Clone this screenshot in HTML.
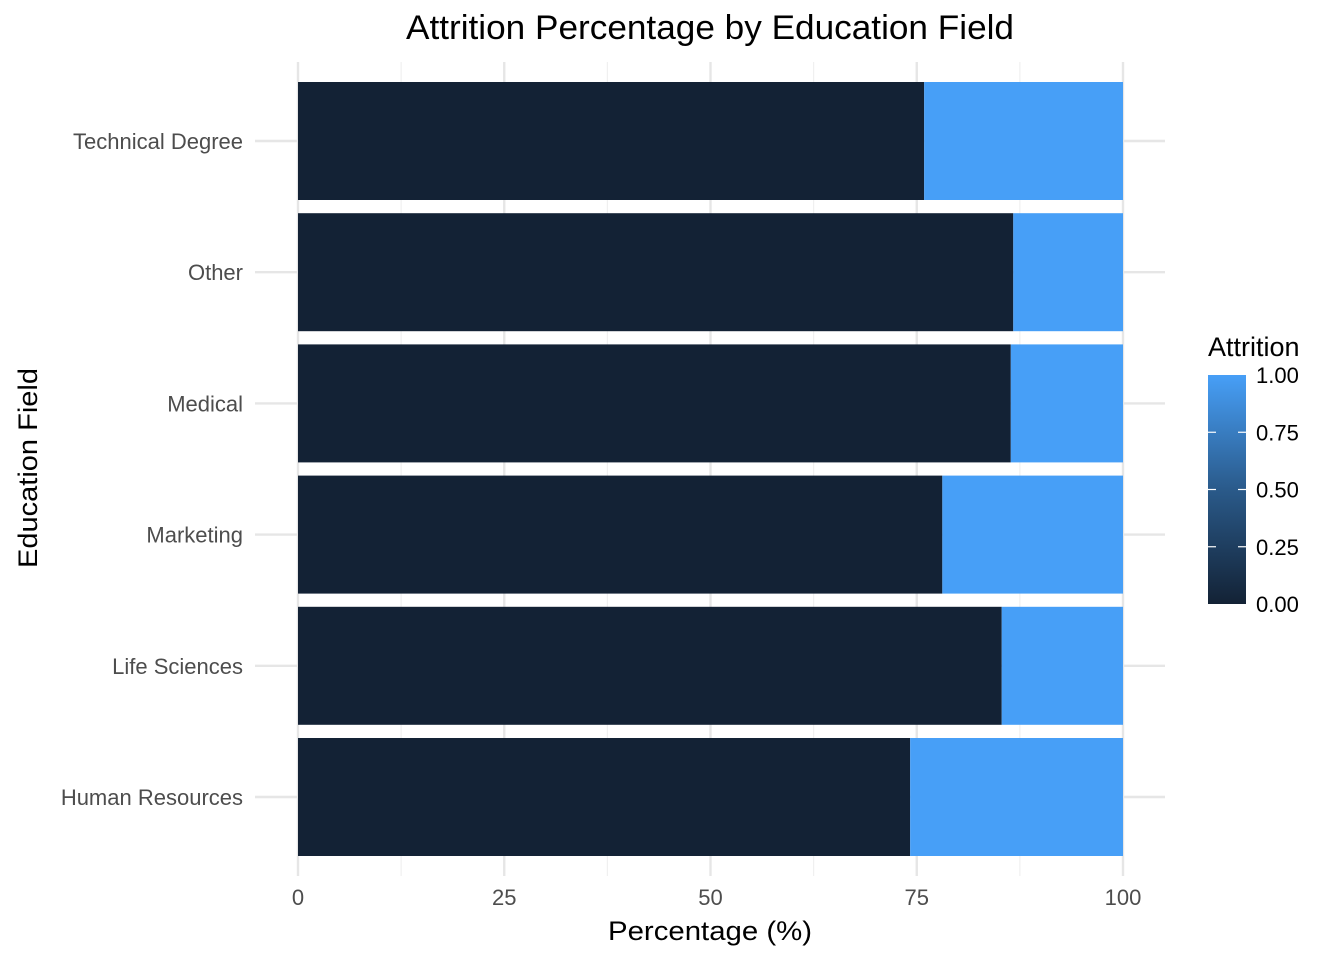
<!DOCTYPE html>
<html><head><meta charset="utf-8"><style>
body{margin:0;background:#fff}
svg text{font-family:"Liberation Sans",Arial,sans-serif}
</style></head><body>
<svg id="chart" width="1344" height="960" xmlns="http://www.w3.org/2000/svg">
<defs><linearGradient id="cg" x1="0" y1="1" x2="0" y2="0">
<stop offset="0" stop-color="#132235"/><stop offset="0.5" stop-color="#2a5a8a"/><stop offset="1" stop-color="#479ff7"/></linearGradient></defs>
<text x="710" y="39" font-size="34" text-anchor="middle" fill="#000" textLength="608" lengthAdjust="spacingAndGlyphs">Attrition Percentage by Education Field</text>
<g id="grid"></g><g id="bars"></g><g id="axes"></g>
<text x="710" y="940" font-size="27" text-anchor="middle" textLength="204" lengthAdjust="spacingAndGlyphs">Percentage (%)</text>
<text transform="translate(37,468) rotate(-90)" font-size="27" text-anchor="middle" textLength="200" lengthAdjust="spacingAndGlyphs">Education Field</text>
<g>
<text x="1208" y="356" font-size="27">Attrition</text>
<rect x="1208" y="375" width="38" height="229" fill="url(#cg)"/>
<g id="legend-ticks"></g>
</g>
</svg>
<script>
const categories=["Human Resources","Life Sciences","Marketing","Medical","Other","Technical Degree"];
const noAttrition=[74.2,85.3,78.1,86.4,86.7,75.9];
const yesAttrition=[25.8,14.7,21.9,13.6,13.3,24.1];
const xTicks=[0,25,50,75,100];
const legendTicks=["0.00","0.25","0.50","0.75","1.00"];
const NS="http://www.w3.org/2000/svg";
const x=v=>298+v*8.25;
const bandC=i=>797-i*131.2;
function mk(tag,attrs,parent,text){const e=document.createElementNS(NS,tag);for(const k in attrs)e.setAttribute(k,attrs[k]);if(text!==undefined)e.textContent=text;parent.appendChild(e);return e;}
const grid=document.getElementById('grid'),bars=document.getElementById('bars'),axes=document.getElementById('axes');
for(let i=0;i<xTicks.length;i++){
 const l=mk('line',{x1:x(xTicks[i]),x2:x(xTicks[i]),y1:62,y2:876,stroke:'#e6e6e6','stroke-width':2.4},grid);
 
 
 if(i<xTicks.length-1){const m=(xTicks[i]+xTicks[i+1])/2;
  const ml=mk('line',{x1:x(m),x2:x(m),y1:62,y2:876,stroke:'#f0f0f0','stroke-width':1.2},grid);
  
  }
 const t=mk('text',{x:x(xTicks[i]),y:905,'font-size':22,'text-anchor':'middle',fill:'#4d4d4d'},axes,xTicks[i]);
 
 
}
const bh=118;
categories.forEach((c,i)=>{
 const yc=bandC(i);
 const g=mk('line',{x1:255,x2:1165,y1:yc,y2:yc,stroke:'#e6e6e6','stroke-width':2.4},grid);
 
 
 const a=mk('rect',{x:x(0),y:yc-bh/2,width:x(noAttrition[i])-x(0),height:bh,fill:'#132235'},bars);
 
 
 const b=mk('rect',{x:x(noAttrition[i]),y:yc-bh/2,width:x(noAttrition[i]+yesAttrition[i])-x(noAttrition[i]),height:bh,fill:'#479ff7'},bars);
 
 
 const t=mk('text',{x:243,y:yc+8,'font-size':22,'text-anchor':'end',fill:'#4d4d4d'},axes,c);
 
 
});
const lt=document.getElementById('legend-ticks');
legendTicks.forEach((v,i)=>{
 const y=604-i*(229/4);
 if(i>0&&i<4){mk('line',{x1:1208,x2:1216,y1:y,y2:y,stroke:'#fff','stroke-width':1.2},lt);mk('line',{x1:1238,x2:1246,y1:y,y2:y,stroke:'#fff','stroke-width':1.2},lt);}
 const t=mk('text',{x:1256,y:y+8,'font-size':22,fill:'#000'},lt,v);
 
 
});
</script>
</body></html>
